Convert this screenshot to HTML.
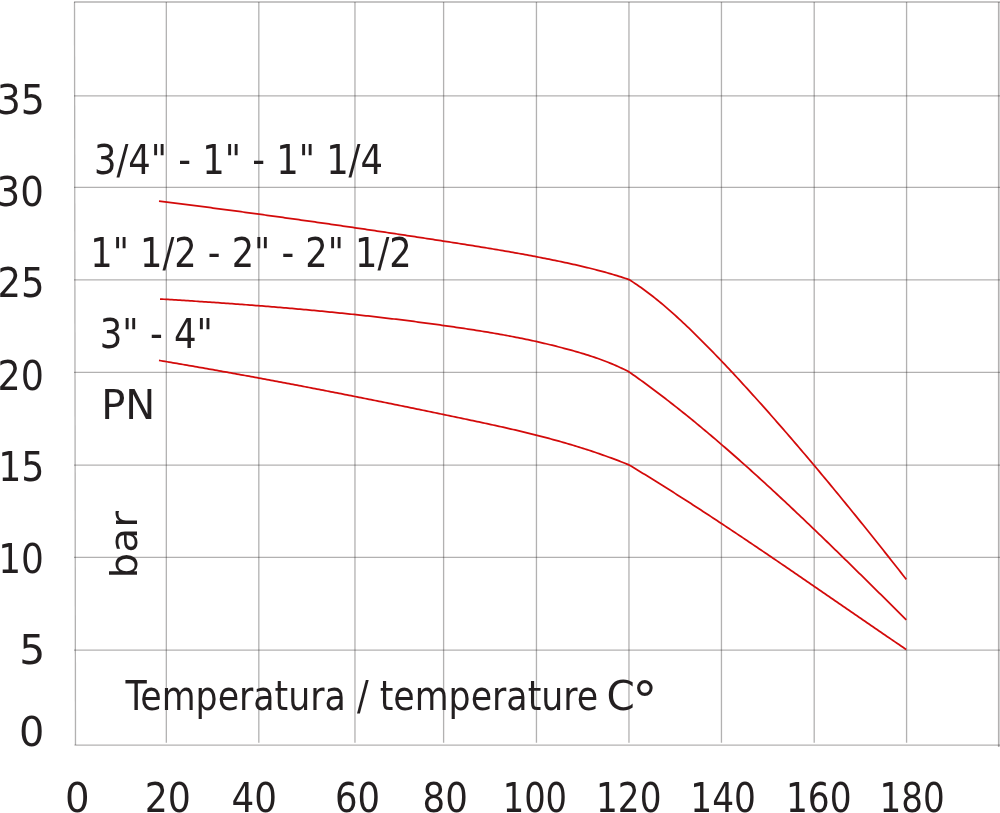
<!DOCTYPE html>
<html><head><meta charset="utf-8"><title>PN bar / temperature</title>
<style>
html,body{margin:0;padding:0;background:#fff;}
body{width:1000px;height:813px;overflow:hidden;}
svg{display:block;}
text{font-family:"DejaVu Sans Condensed","DejaVu Sans","Liberation Sans",sans-serif;font-stretch:condensed;fill:#231f20;}
</style></head><body>
<svg width="1000" height="813" viewBox="0 0 1000 813">
<rect width="1000" height="813" fill="#fff"/>
<line x1="999.5" y1="2" x2="999.5" y2="747" stroke="#e2e2e2" stroke-width="1"/>
<g stroke="#231f20" stroke-opacity="0.35" stroke-width="1.3" fill="none">
<line x1="166.33" y1="2.0" x2="166.33" y2="742.8"/>
<line x1="258.82" y1="2.0" x2="258.82" y2="742.8"/>
<line x1="354.96" y1="2.0" x2="354.96" y2="742.8"/>
<line x1="443.60" y1="2.0" x2="443.60" y2="742.8"/>
<line x1="536.45" y1="2.0" x2="536.45" y2="742.8"/>
<line x1="628.96" y1="2.0" x2="628.96" y2="742.8"/>
<line x1="721.45" y1="2.0" x2="721.45" y2="742.8"/>
<line x1="814.20" y1="2.0" x2="814.20" y2="742.8"/>
<line x1="906.58" y1="2.0" x2="906.58" y2="742.8"/>
<line x1="74" y1="2.00" x2="1000" y2="2.00"/>
<line x1="74" y1="95.95" x2="1000" y2="95.95"/>
<line x1="74" y1="187.35" x2="1000" y2="187.35"/>
<line x1="74" y1="279.84" x2="1000" y2="279.84"/>
<line x1="74" y1="372.33" x2="1000" y2="372.33"/>
<line x1="74" y1="465.13" x2="1000" y2="465.13"/>
<line x1="74" y1="557.33" x2="1000" y2="557.33"/>
<line x1="74" y1="650.09" x2="1000" y2="650.09"/>
<line x1="74.5" y1="745.1" x2="1000" y2="745.1"/>
<line x1="74.5" y1="2.0" x2="75.5" y2="745.1"/>
<line x1="998.57" y1="2.0" x2="998.57" y2="747"/>
</g>
<g stroke="#d30a0a" stroke-width="1.75" fill="none" stroke-linejoin="round">
<path d="M159.0 201.06L161.0 201.31L163.0 201.57L165.0 201.82L167.0 202.07L169.0 202.32L171.0 202.58L173.0 202.83L175.0 203.09L177.0 203.34L179.0 203.60L181.0 203.85L183.0 204.11L185.0 204.36L187.0 204.62L189.0 204.88L191.0 205.14L193.0 205.40L195.0 205.65L197.0 205.91L199.0 206.17L201.0 206.43L203.0 206.70L205.0 206.96L207.0 207.22L209.0 207.48L211.0 207.74L213.0 208.01L215.0 208.27L217.0 208.53L219.0 208.80L221.0 209.06L223.0 209.33L225.0 209.59L227.0 209.86L229.0 210.13L231.0 210.39L233.0 210.66L235.0 210.93L237.0 211.20L239.0 211.46L241.0 211.73L243.0 212.00L245.0 212.27L247.0 212.54L249.0 212.81L251.0 213.09L253.0 213.36L255.0 213.63L257.0 213.90L259.0 214.18L261.0 214.45L263.0 214.72L265.0 215.00L267.0 215.27L269.0 215.55L271.0 215.82L273.0 216.10L275.0 216.38L277.0 216.65L279.0 216.93L281.0 217.21L283.0 217.48L285.0 217.76L287.0 218.04L289.0 218.32L291.0 218.60L293.0 218.88L295.0 219.16L297.0 219.44L299.0 219.72L301.0 220.01L303.0 220.29L305.0 220.57L307.0 220.85L309.0 221.14L311.0 221.42L313.0 221.71L315.0 221.99L317.0 222.28L319.0 222.56L321.0 222.85L323.0 223.13L325.0 223.42L327.0 223.71L329.0 223.99L331.0 224.28L333.0 224.57L335.0 224.86L337.0 225.15L339.0 225.44L341.0 225.73L343.0 226.02L345.0 226.31L347.0 226.60L349.0 226.89L351.0 227.18L353.0 227.48L355.0 227.77L357.0 228.06L359.0 228.35L361.0 228.65L363.0 228.94L365.0 229.24L367.0 229.53L369.0 229.83L371.0 230.12L373.0 230.42L375.0 230.72L377.0 231.01L379.0 231.31L381.0 231.61L383.0 231.91L385.0 232.20L387.0 232.50L389.0 232.80L391.0 233.10L393.0 233.40L395.0 233.70L397.0 234.00L399.0 234.30L401.0 234.60L403.0 234.91L405.0 235.21L407.0 235.51L409.0 235.81L411.0 236.12L413.0 236.42L415.0 236.73L417.0 237.03L419.0 237.33L421.0 237.64L423.0 237.94L425.0 238.25L427.0 238.56L429.0 238.86L431.0 239.17L433.0 239.48L435.0 239.79L437.0 240.09L439.0 240.40L441.0 240.71L443.0 241.02L445.0 241.33L447.0 241.64L449.0 241.95L451.0 242.26L453.0 242.57L455.0 242.88L457.0 243.20L459.0 243.51L461.0 243.82L463.0 244.14L465.0 244.45L467.0 244.77L469.0 245.09L471.0 245.41L473.0 245.73L475.0 246.05L477.0 246.37L479.0 246.69L481.0 247.02L483.0 247.34L485.0 247.67L487.0 248.00L489.0 248.33L491.0 248.66L493.0 249.00L495.0 249.33L497.0 249.67L499.0 250.01L501.0 250.35L503.0 250.69L505.0 251.03L507.0 251.38L509.0 251.73L511.0 252.08L513.0 252.43L515.0 252.79L517.0 253.14L519.0 253.50L521.0 253.87L523.0 254.23L525.0 254.60L527.0 254.97L529.0 255.34L531.0 255.71L533.0 256.09L535.0 256.47L537.0 256.85L539.0 257.24L541.0 257.62L543.0 258.02L545.0 258.41L547.0 258.81L549.0 259.21L551.0 259.61L553.0 260.02L555.0 260.43L557.0 260.84L559.0 261.26L561.0 261.68L563.0 262.10L565.0 262.53L567.0 262.96L569.0 263.40L571.0 263.83L573.0 264.28L575.0 264.72L577.0 265.18L579.0 265.64L581.0 266.10L583.0 266.57L585.0 267.04L587.0 267.53L589.0 268.01L591.0 268.51L593.0 269.01L595.0 269.52L597.0 270.04L599.0 270.56L601.0 271.10L603.0 271.64L605.0 272.19L607.0 272.75L609.0 273.32L611.0 273.90L613.0 274.49L615.0 275.09L617.0 275.70L619.0 276.32L621.0 276.95L623.0 277.59L625.0 278.25L627.0 278.92L629.0 279.59L631.0 280.85L633.0 282.13L635.0 283.44L637.0 284.79L639.0 286.16L641.0 287.56L643.0 288.99L645.0 290.44L647.0 291.93L649.0 293.43L651.0 294.97L653.0 296.53L655.0 298.11L657.0 299.72L659.0 301.35L661.0 303.00L663.0 304.68L665.0 306.38L667.0 308.09L669.0 309.83L671.0 311.59L673.0 313.37L675.0 315.17L677.0 316.99L679.0 318.82L681.0 320.67L683.0 322.54L685.0 324.42L687.0 326.32L689.0 328.24L691.0 330.17L693.0 332.11L695.0 334.07L697.0 336.04L699.0 338.02L701.0 340.01L703.0 342.01L705.0 344.03L707.0 346.05L709.0 348.09L711.0 350.13L713.0 352.19L715.0 354.25L717.0 356.32L719.0 358.41L721.0 360.50L723.0 362.60L725.0 364.70L727.0 366.82L729.0 368.95L731.0 371.08L733.0 373.22L735.0 375.37L737.0 377.52L739.0 379.69L741.0 381.86L743.0 384.04L745.0 386.22L747.0 388.42L749.0 390.62L751.0 392.82L753.0 395.04L755.0 397.26L757.0 399.48L759.0 401.71L761.0 403.95L763.0 406.19L765.0 408.44L767.0 410.69L769.0 412.95L771.0 415.22L773.0 417.49L775.0 419.77L777.0 422.05L779.0 424.34L781.0 426.63L783.0 428.93L785.0 431.23L787.0 433.54L789.0 435.86L791.0 438.17L793.0 440.50L795.0 442.83L797.0 445.16L799.0 447.50L801.0 449.85L803.0 452.20L805.0 454.55L807.0 456.91L809.0 459.28L811.0 461.65L813.0 464.02L815.0 466.40L817.0 468.78L819.0 471.17L821.0 473.57L823.0 475.96L825.0 478.37L827.0 480.77L829.0 483.18L831.0 485.60L833.0 488.02L835.0 490.44L837.0 492.87L839.0 495.30L841.0 497.74L843.0 500.18L845.0 502.63L847.0 505.08L849.0 507.53L851.0 509.99L853.0 512.45L855.0 514.92L857.0 517.39L859.0 519.86L861.0 522.34L863.0 524.82L865.0 527.30L867.0 529.79L869.0 532.28L871.0 534.78L873.0 537.28L875.0 539.78L877.0 542.29L879.0 544.80L881.0 547.31L883.0 549.83L885.0 552.35L887.0 554.87L889.0 557.40L891.0 559.93L893.0 562.46L895.0 565.00L897.0 567.54L899.0 570.08L901.0 572.63L903.0 575.17L905.0 577.73L906.3 579.39"/>
<path d="M160.0 299.01L162.0 299.13L164.0 299.25L166.0 299.37L168.0 299.49L170.0 299.61L172.0 299.73L174.0 299.85L176.0 299.98L178.0 300.10L180.0 300.23L182.0 300.35L184.0 300.48L186.0 300.60L188.0 300.73L190.0 300.86L192.0 300.99L194.0 301.12L196.0 301.25L198.0 301.38L200.0 301.51L202.0 301.64L204.0 301.77L206.0 301.91L208.0 302.04L210.0 302.18L212.0 302.31L214.0 302.45L216.0 302.59L218.0 302.73L220.0 302.87L222.0 303.01L224.0 303.15L226.0 303.29L228.0 303.43L230.0 303.57L232.0 303.72L234.0 303.86L236.0 304.01L238.0 304.16L240.0 304.30L242.0 304.45L244.0 304.60L246.0 304.75L248.0 304.90L250.0 305.06L252.0 305.21L254.0 305.36L256.0 305.52L258.0 305.67L260.0 305.83L262.0 305.99L264.0 306.15L266.0 306.31L268.0 306.47L270.0 306.63L272.0 306.80L274.0 306.96L276.0 307.12L278.0 307.29L280.0 307.46L282.0 307.63L284.0 307.80L286.0 307.97L288.0 308.14L290.0 308.31L292.0 308.48L294.0 308.66L296.0 308.83L298.0 309.01L300.0 309.19L302.0 309.37L304.0 309.55L306.0 309.73L308.0 309.91L310.0 310.10L312.0 310.28L314.0 310.47L316.0 310.66L318.0 310.85L320.0 311.04L322.0 311.23L324.0 311.42L326.0 311.61L328.0 311.81L330.0 312.01L332.0 312.20L334.0 312.40L336.0 312.60L338.0 312.80L340.0 313.01L342.0 313.21L344.0 313.42L346.0 313.62L348.0 313.83L350.0 314.04L352.0 314.25L354.0 314.46L356.0 314.68L358.0 314.89L360.0 315.11L362.0 315.32L364.0 315.54L366.0 315.76L368.0 315.99L370.0 316.21L372.0 316.43L374.0 316.66L376.0 316.89L378.0 317.12L380.0 317.35L382.0 317.58L384.0 317.81L386.0 318.05L388.0 318.28L390.0 318.52L392.0 318.76L394.0 319.00L396.0 319.24L398.0 319.49L400.0 319.73L402.0 319.98L404.0 320.23L406.0 320.48L408.0 320.73L410.0 320.98L412.0 321.24L414.0 321.49L416.0 321.75L418.0 322.01L420.0 322.27L422.0 322.54L424.0 322.80L426.0 323.07L428.0 323.34L430.0 323.61L432.0 323.88L434.0 324.15L436.0 324.42L438.0 324.70L440.0 324.98L442.0 325.26L444.0 325.54L446.0 325.82L448.0 326.11L450.0 326.39L452.0 326.68L454.0 326.97L456.0 327.27L458.0 327.56L460.0 327.85L462.0 328.15L464.0 328.45L466.0 328.75L468.0 329.06L470.0 329.36L472.0 329.67L474.0 329.98L476.0 330.29L478.0 330.61L480.0 330.93L482.0 331.25L484.0 331.57L486.0 331.90L488.0 332.23L490.0 332.57L492.0 332.91L494.0 333.25L496.0 333.59L498.0 333.94L500.0 334.30L502.0 334.65L504.0 335.01L506.0 335.38L508.0 335.75L510.0 336.12L512.0 336.50L514.0 336.89L516.0 337.28L518.0 337.67L520.0 338.07L522.0 338.47L524.0 338.88L526.0 339.30L528.0 339.72L530.0 340.14L532.0 340.58L534.0 341.01L536.0 341.46L538.0 341.91L540.0 342.36L542.0 342.82L544.0 343.29L546.0 343.77L548.0 344.25L550.0 344.73L552.0 345.22L554.0 345.72L556.0 346.22L558.0 346.73L560.0 347.25L562.0 347.77L564.0 348.29L566.0 348.82L568.0 349.36L570.0 349.90L572.0 350.45L574.0 351.00L576.0 351.57L578.0 352.14L580.0 352.72L582.0 353.32L584.0 353.92L586.0 354.54L588.0 355.17L590.0 355.81L592.0 356.46L594.0 357.13L596.0 357.82L598.0 358.52L600.0 359.23L602.0 359.96L604.0 360.72L606.0 361.48L608.0 362.27L610.0 363.08L612.0 363.91L614.0 364.75L616.0 365.62L618.0 366.52L620.0 367.43L622.0 368.37L624.0 369.33L626.0 370.32L628.0 371.33L629.0 371.85L631.0 373.25L633.0 374.66L635.0 376.08L637.0 377.50L639.0 378.94L641.0 380.38L643.0 381.83L645.0 383.29L647.0 384.76L649.0 386.23L651.0 387.71L653.0 389.20L655.0 390.70L657.0 392.21L659.0 393.72L661.0 395.24L663.0 396.77L665.0 398.30L667.0 399.85L669.0 401.40L671.0 402.95L673.0 404.52L675.0 406.09L677.0 407.67L679.0 409.26L681.0 410.85L683.0 412.45L685.0 414.05L687.0 415.67L689.0 417.29L691.0 418.91L693.0 420.55L695.0 422.19L697.0 423.83L699.0 425.49L701.0 427.14L703.0 428.81L705.0 430.48L707.0 432.16L709.0 433.84L711.0 435.53L713.0 437.23L715.0 438.93L717.0 440.63L719.0 442.35L721.0 444.07L723.0 445.79L725.0 447.52L727.0 449.26L729.0 451.00L731.0 452.74L733.0 454.49L735.0 456.25L737.0 458.01L739.0 459.78L741.0 461.55L743.0 463.33L745.0 465.11L747.0 466.90L749.0 468.69L751.0 470.49L753.0 472.29L755.0 474.10L757.0 475.91L759.0 477.73L761.0 479.55L763.0 481.37L765.0 483.20L767.0 485.03L769.0 486.87L771.0 488.71L773.0 490.56L775.0 492.41L777.0 494.26L779.0 496.12L781.0 497.99L783.0 499.85L785.0 501.72L787.0 503.59L789.0 505.47L791.0 507.35L793.0 509.24L795.0 511.12L797.0 513.02L799.0 514.91L801.0 516.81L803.0 518.71L805.0 520.61L807.0 522.52L809.0 524.43L811.0 526.34L813.0 528.26L815.0 530.18L817.0 532.10L819.0 534.03L821.0 535.96L823.0 537.89L825.0 539.82L827.0 541.75L829.0 543.69L831.0 545.63L833.0 547.57L835.0 549.52L837.0 551.47L839.0 553.41L841.0 555.37L843.0 557.32L845.0 559.27L847.0 561.23L849.0 563.19L851.0 565.15L853.0 567.11L855.0 569.08L857.0 571.04L859.0 573.01L861.0 574.98L863.0 576.95L865.0 578.92L867.0 580.89L869.0 582.87L871.0 584.84L873.0 586.82L875.0 588.80L877.0 590.78L879.0 592.76L881.0 594.74L883.0 596.72L885.0 598.70L887.0 600.68L889.0 602.67L891.0 604.65L893.0 606.63L895.0 608.62L897.0 610.60L899.0 612.59L901.0 614.58L903.0 616.56L905.0 618.55L906.3 619.84"/>
<path d="M159.0 360.41L161.0 360.74L163.0 361.08L165.0 361.42L167.0 361.76L169.0 362.10L171.0 362.43L173.0 362.78L175.0 363.12L177.0 363.46L179.0 363.80L181.0 364.14L183.0 364.49L185.0 364.83L187.0 365.18L189.0 365.52L191.0 365.87L193.0 366.22L195.0 366.57L197.0 366.92L199.0 367.27L201.0 367.62L203.0 367.97L205.0 368.32L207.0 368.67L209.0 369.03L211.0 369.38L213.0 369.73L215.0 370.09L217.0 370.45L219.0 370.80L221.0 371.16L223.0 371.52L225.0 371.88L227.0 372.23L229.0 372.59L231.0 372.96L233.0 373.32L235.0 373.68L237.0 374.04L239.0 374.40L241.0 374.77L243.0 375.13L245.0 375.50L247.0 375.86L249.0 376.23L251.0 376.60L253.0 376.97L255.0 377.33L257.0 377.70L259.0 378.07L261.0 378.44L263.0 378.81L265.0 379.19L267.0 379.56L269.0 379.93L271.0 380.30L273.0 380.68L275.0 381.05L277.0 381.43L279.0 381.80L281.0 382.18L283.0 382.56L285.0 382.93L287.0 383.31L289.0 383.69L291.0 384.07L293.0 384.45L295.0 384.83L297.0 385.21L299.0 385.59L301.0 385.97L303.0 386.36L305.0 386.74L307.0 387.12L309.0 387.51L311.0 387.89L313.0 388.28L315.0 388.67L317.0 389.05L319.0 389.44L321.0 389.83L323.0 390.22L325.0 390.60L327.0 390.99L329.0 391.38L331.0 391.77L333.0 392.16L335.0 392.56L337.0 392.95L339.0 393.34L341.0 393.73L343.0 394.13L345.0 394.52L347.0 394.92L349.0 395.31L351.0 395.71L353.0 396.10L355.0 396.50L357.0 396.90L359.0 397.29L361.0 397.69L363.0 398.09L365.0 398.49L367.0 398.89L369.0 399.29L371.0 399.69L373.0 400.09L375.0 400.49L377.0 400.89L379.0 401.30L381.0 401.70L383.0 402.10L385.0 402.51L387.0 402.91L389.0 403.31L391.0 403.72L393.0 404.12L395.0 404.53L397.0 404.94L399.0 405.34L401.0 405.75L403.0 406.16L405.0 406.57L407.0 406.98L409.0 407.39L411.0 407.79L413.0 408.20L415.0 408.61L417.0 409.03L419.0 409.44L421.0 409.85L423.0 410.26L425.0 410.67L427.0 411.09L429.0 411.50L431.0 411.91L433.0 412.33L435.0 412.74L437.0 413.16L439.0 413.57L441.0 413.99L443.0 414.40L445.0 414.82L447.0 415.24L449.0 415.65L451.0 416.07L453.0 416.49L455.0 416.91L457.0 417.32L459.0 417.74L461.0 418.16L463.0 418.58L465.0 419.00L467.0 419.42L469.0 419.85L471.0 420.27L473.0 420.69L475.0 421.12L477.0 421.54L479.0 421.97L481.0 422.40L483.0 422.82L485.0 423.26L487.0 423.69L489.0 424.12L491.0 424.56L493.0 425.00L495.0 425.44L497.0 425.88L499.0 426.32L501.0 426.77L503.0 427.22L505.0 427.67L507.0 428.13L509.0 428.58L511.0 429.04L513.0 429.51L515.0 429.97L517.0 430.44L519.0 430.91L521.0 431.39L523.0 431.87L525.0 432.35L527.0 432.84L529.0 433.33L531.0 433.82L533.0 434.32L535.0 434.82L537.0 435.33L539.0 435.84L541.0 436.36L543.0 436.87L545.0 437.40L547.0 437.93L549.0 438.46L551.0 439.00L553.0 439.54L555.0 440.09L557.0 440.65L559.0 441.20L561.0 441.77L563.0 442.34L565.0 442.91L567.0 443.50L569.0 444.08L571.0 444.68L573.0 445.27L575.0 445.88L577.0 446.49L579.0 447.11L581.0 447.73L583.0 448.36L585.0 449.00L587.0 449.64L589.0 450.29L591.0 450.95L593.0 451.62L595.0 452.29L597.0 452.97L599.0 453.65L601.0 454.35L603.0 455.05L605.0 455.76L607.0 456.47L609.0 457.20L611.0 457.93L613.0 458.67L615.0 459.42L617.0 460.18L619.0 460.94L621.0 461.71L623.0 462.50L625.0 463.29L627.0 464.09L629.0 464.89L631.0 466.10L633.0 467.31L635.0 468.52L637.0 469.73L639.0 470.95L641.0 472.17L643.0 473.39L645.0 474.62L647.0 475.85L649.0 477.08L651.0 478.31L653.0 479.55L655.0 480.79L657.0 482.04L659.0 483.29L661.0 484.54L663.0 485.79L665.0 487.05L667.0 488.30L669.0 489.57L671.0 490.83L673.0 492.10L675.0 493.37L677.0 494.64L679.0 495.91L681.0 497.19L683.0 498.47L685.0 499.75L687.0 501.04L689.0 502.32L691.0 503.61L693.0 504.91L695.0 506.20L697.0 507.50L699.0 508.80L701.0 510.10L703.0 511.40L705.0 512.71L707.0 514.01L709.0 515.32L711.0 516.64L713.0 517.95L715.0 519.27L717.0 520.58L719.0 521.90L721.0 523.22L723.0 524.55L725.0 525.87L727.0 527.20L729.0 528.53L731.0 529.86L733.0 531.19L735.0 532.53L737.0 533.86L739.0 535.20L741.0 536.54L743.0 537.88L745.0 539.22L747.0 540.57L749.0 541.91L751.0 543.26L753.0 544.61L755.0 545.96L757.0 547.31L759.0 548.66L761.0 550.01L763.0 551.37L765.0 552.72L767.0 554.08L769.0 555.44L771.0 556.80L773.0 558.16L775.0 559.52L777.0 560.88L779.0 562.24L781.0 563.61L783.0 564.97L785.0 566.34L787.0 567.70L789.0 569.07L791.0 570.44L793.0 571.81L795.0 573.18L797.0 574.55L799.0 575.92L801.0 577.29L803.0 578.67L805.0 580.04L807.0 581.41L809.0 582.79L811.0 584.16L813.0 585.54L815.0 586.91L817.0 588.29L819.0 589.66L821.0 591.04L823.0 592.41L825.0 593.79L827.0 595.17L829.0 596.55L831.0 597.92L833.0 599.30L835.0 600.68L837.0 602.05L839.0 603.43L841.0 604.81L843.0 606.19L845.0 607.56L847.0 608.94L849.0 610.32L851.0 611.69L853.0 613.07L855.0 614.45L857.0 615.82L859.0 617.20L861.0 618.57L863.0 619.95L865.0 621.32L867.0 622.70L869.0 624.07L871.0 625.44L873.0 626.82L875.0 628.19L877.0 629.56L879.0 630.93L881.0 632.30L883.0 633.67L885.0 635.04L887.0 636.41L889.0 637.77L891.0 639.14L893.0 640.50L895.0 641.87L897.0 643.23L899.0 644.59L901.0 645.96L903.0 647.32L905.0 648.68L906.2 649.49"/>
</g>
<g>
<text x="-3.36" y="114.00" font-size="40.5" textLength="48.17" lengthAdjust="spacingAndGlyphs">35</text>
<text x="-3.50" y="205.50" font-size="40.5" textLength="47.29" lengthAdjust="spacingAndGlyphs">30</text>
<text x="-2.46" y="296.90" font-size="40.5" textLength="47.07" lengthAdjust="spacingAndGlyphs">25</text>
<text x="-2.46" y="389.50" font-size="40.5" textLength="46.37" lengthAdjust="spacingAndGlyphs">20</text>
<text x="-1.81" y="480.70" font-size="40.5" textLength="46.27" lengthAdjust="spacingAndGlyphs">15</text>
<text x="-1.80" y="572.80" font-size="40.5" textLength="45.70" lengthAdjust="spacingAndGlyphs">10</text>
<text x="19.18" y="664.30" font-size="40.5" textLength="25.97" lengthAdjust="spacingAndGlyphs">5</text>
<text x="19.06" y="745.50" font-size="40.5" textLength="25.36" lengthAdjust="spacingAndGlyphs">0</text>
<text x="64.98" y="811.70" font-size="40.5" textLength="24.61" lengthAdjust="spacingAndGlyphs">0</text>
<text x="144.72" y="811.70" font-size="40.5" textLength="46.22" lengthAdjust="spacingAndGlyphs">20</text>
<text x="231.46" y="811.70" font-size="40.5" textLength="45.47" lengthAdjust="spacingAndGlyphs">40</text>
<text x="334.97" y="811.70" font-size="40.5" textLength="45.07" lengthAdjust="spacingAndGlyphs">60</text>
<text x="422.56" y="811.70" font-size="40.5" textLength="45.28" lengthAdjust="spacingAndGlyphs">80</text>
<text x="502.70" y="811.70" font-size="40.5" textLength="64.37" lengthAdjust="spacingAndGlyphs">100</text>
<text x="596.04" y="811.70" font-size="40.5" textLength="65.42" lengthAdjust="spacingAndGlyphs">120</text>
<text x="690.27" y="811.70" font-size="40.5" textLength="65.58" lengthAdjust="spacingAndGlyphs">140</text>
<text x="785.97" y="811.70" font-size="40.5" textLength="65.62" lengthAdjust="spacingAndGlyphs">160</text>
<text x="879.61" y="811.70" font-size="40.5" textLength="65.16" lengthAdjust="spacingAndGlyphs">180</text>
<text x="93.98" y="173.50" font-size="40.5" textLength="289.04" lengthAdjust="spacingAndGlyphs">3/4" - 1" - 1" 1/4</text>
<text x="90.31" y="267.40" font-size="40.5" textLength="321.40" lengthAdjust="spacingAndGlyphs">1" 1/2 - 2" - 2" 1/2</text>
<text x="99.71" y="347.90" font-size="40.5" textLength="113.25" lengthAdjust="spacingAndGlyphs">3" - 4"</text>
<text x="101.16" y="418.70" font-size="40.5" textLength="54.12" lengthAdjust="spacingAndGlyphs">PN</text>
<text x="125.62" y="709.50" font-size="40" textLength="472.54" lengthAdjust="spacingAndGlyphs">Temperatura / temperature</text>
<text x="606.55" y="709.50" font-size="40" textLength="28.36" lengthAdjust="spacingAndGlyphs">C</text>
<text x="632.31" y="717.68" font-size="52" textLength="25.17" lengthAdjust="spacingAndGlyphs">°</text>
<text transform="translate(136.95 578.45) rotate(-90)" font-size="38" textLength="67.39" lengthAdjust="spacingAndGlyphs">bar</text>
</g>
</svg>
</body></html>
